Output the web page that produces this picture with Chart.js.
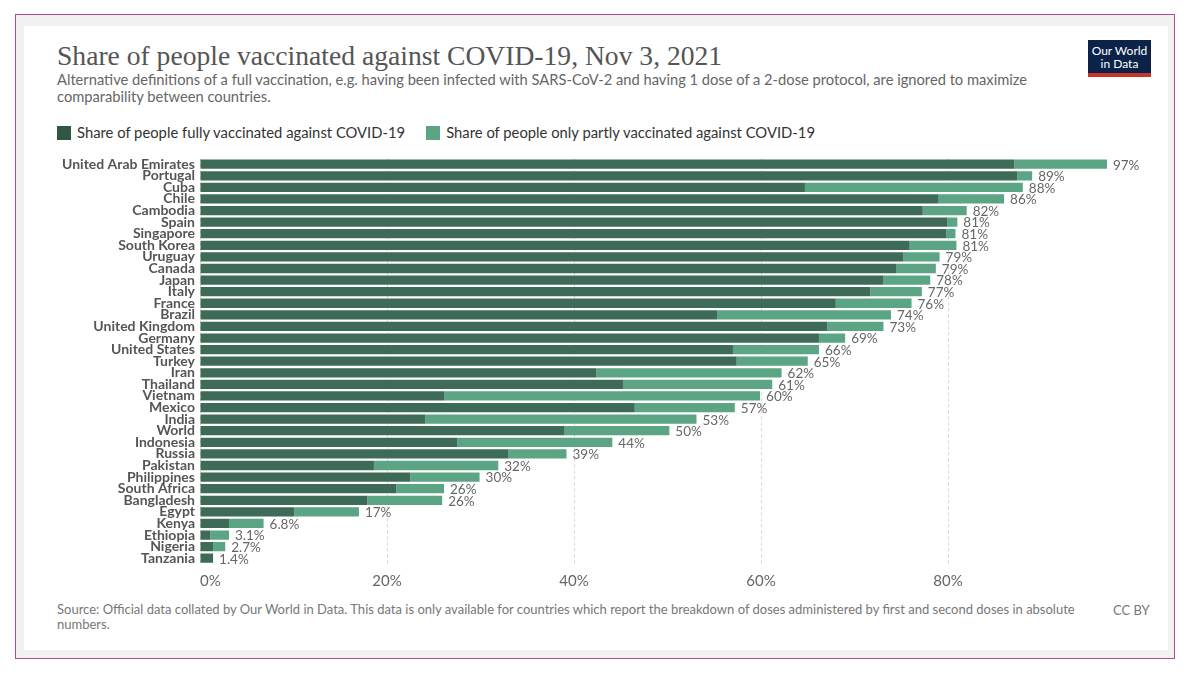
<!DOCTYPE html>
<html>
<head>
<meta charset="utf-8">
<script src="https://cdn.jsdelivr.net/npm/chart.js@4"></script>
<style>
    body { margin: 0; background: #fff; font-family: Lato, "Noto Sans", sans-serif; }
    .frame { position: absolute; left: 15px; top: 14px; width: 1160px; height: 645px; border: 1px solid #b04a9e; background: #f1f1f1; box-sizing: border-box; }
    .card { position: absolute; left: 24px; top: 26px; width: 1144px; height: 624px; background: #fff; }
    .title { position: absolute; left: 57px; top: 40px; font-family: "Liberation Serif", "DejaVu Serif", serif; font-size: 27.6px; color: #555; }
    .subtitle { position: absolute; left: 57px; top: 71px; width: 1000px; font-size: 14.7px; line-height: 17px; color: #666; }
    .logo { position: absolute; left: 1088px; top: 40px; width: 63px; height: 37px; background: #0b2349; border-bottom: 4px solid #c8332a; box-sizing: border-box; color: #fff; font-size: 12px; line-height: 13px; text-align: center; padding-top: 4px; }
    .legend { position: absolute; left: 57px; top: 123px; font-size: 14.8px; color: #333; display: flex; gap: 21px; }
    .legend span.box { display: inline-block; width: 14px; height: 14px; margin-right: 6px; vertical-align: -2px; }
    .source { position: absolute; left: 57px; top: 602px; width: 1030px; font-size: 13px; line-height: 15px; color: #777; }
    .cc { position: absolute; left: 1113px; top: 602px; font-size: 13px; color: #777; }
    #wrap { position: absolute; left: 40px; top: 145px; width: 1130px; height: 453px; }
</style>
</head>
<body>
<div class="frame"></div>
<div class="card"></div>
<div class="title">Share of people vaccinated against COVID-19, Nov 3, 2021</div>
<div class="subtitle">Alternative definitions of a full vaccination, e.g. having been infected with SARS-CoV-2 and having 1 dose of a 2-dose protocol, are ignored to maximize comparability between countries.</div>
<div class="logo">Our World<br>in Data</div>
<div class="legend">
    <div><span class="box" style="background:#2f5744"></span>Share of people fully vaccinated against COVID-19</div>
    <div><span class="box" style="background:#5ba584"></span>Share of people only partly vaccinated against COVID-19</div>
</div>
<div id="wrap"><canvas id="chart"></canvas></div>
<div class="source">Source: Official data collated by Our World in Data. This data is only available for countries which report the breakdown of doses administered by first and second doses in absolute numbers.</div>
<div class="cc">CC BY</div>

<script>
// --- Data ---
const countries = ['United Arab Emirates', 'Portugal', 'Cuba', 'Chile', 'Cambodia', 'Spain', 'Singapore',
    'South Korea', 'Uruguay', 'Canada', 'Japan', 'Italy', 'France', 'Brazil', 'United Kingdom', 'Germany',
    'United States', 'Turkey', 'Iran', 'Thailand', 'Vietnam', 'Mexico', 'India', 'World', 'Indonesia',
    'Russia', 'Pakistan', 'Philippines', 'South Africa', 'Bangladesh', 'Egypt', 'Kenya', 'Ethiopia',
    'Nigeria', 'Tanzania'];
const fullyVaccinated = [87.1, 87.4, 64.7, 79.0, 77.3, 79.9, 79.8, 75.9, 75.2, 74.5, 73.1, 71.7, 68.0,
    55.3, 67.1, 66.2, 57.0, 57.4, 42.4, 45.3, 26.1, 46.5, 24.1, 39.0, 27.5, 33.0, 18.6, 22.5, 21.0, 17.9,
    10.1, 3.1, 1.1, 1.4, 1.4];
const partlyVaccinated = [9.9, 1.6, 23.3, 7.0, 4.7, 1.1, 1.0, 5.0, 3.9, 4.2, 5.0, 5.5, 8.1, 18.6, 6.0,
    2.8, 9.2, 7.6, 19.8, 15.9, 33.8, 10.7, 29.0, 11.2, 16.6, 6.2, 13.3, 7.4, 5.1, 8.0, 6.9, 3.7, 2.0,
    1.3, 0];
const xTicks = [0, 20, 40, 60, 80, 100];   // 100 is only there to keep the scale end, not labelled

function formatShare(v) {
    return v < 10 ? v.toFixed(1) + '%' : Math.round(v) + '%';
}

// total label at the end of each stacked bar
const endLabels = {
    id: 'endLabels',
    afterDatasetsDraw(chart) {
        const ctx = chart.ctx;
        const last = chart.getDatasetMeta(chart.data.datasets.length - 1);
        ctx.save();
        ctx.font = '13.5px Lato';
        ctx.fillStyle = '#666';
        ctx.textBaseline = 'middle';
        ctx.textAlign = 'left';
        last.data.forEach((bar, i) => {
            const total = fullyVaccinated[i] + partlyVaccinated[i];
            ctx.fillText(formatShare(total), bar.x + 6, bar.y + 1);
        });
        ctx.restore();
    }
};

new Chart(document.getElementById('chart'), {
    type: 'bar',
    data: {
        labels: countries,
        datasets: [{
            label: 'Share of people fully vaccinated against COVID-19',
            data: fullyVaccinated,
            backgroundColor: '#3e6b57'
        }, {
            label: 'Share of people only partly vaccinated against COVID-19',
            data: partlyVaccinated,
            backgroundColor: '#5ba584'
        }]
    },
    options: {
        indexAxis: 'y',
        responsive: true,
        maintainAspectRatio: false,
        animation: false,
        layout: { padding: { top: 7, right: 35, left: 0, bottom: 0 } },
        datasets: { bar: { barPercentage: 0.8, categoryPercentage: 1 } },
        plugins: {
            legend: { display: false },
            tooltip: { enabled: false }
        },
        scales: {
            x: {
                stacked: true,
                min: 0,
                max: 100,
                afterBuildTicks: axis => { axis.ticks = xTicks.map(v => ({ value: v })); },
                ticks: {
                    callback: v => v === 100 ? '' : v + '%',
                    font: { family: 'Lato', size: 15 },
                    color: '#666',
                    padding: 8,
                    align: 'inner'
                },
                grid: {
                    color: ctx => ctx.tick && ctx.tick.value === 100 ? 'rgba(0,0,0,0)' : '#d6d6d6',
                    drawTicks: false
                },
                border: { display: false, dash: [3, 3] }
            },
            y: {
                stacked: true,
                afterFit: axis => { axis.width = 160; },
                ticks: {
                    autoSkip: false,
                    font: { family: 'Lato', size: 14, weight: 'bold' },
                    color: '#555',
                    padding: 5
                },
                grid: { display: false, drawTicks: false },
                border: { display: false }
            }
        }
    },
    plugins: [endLabels]
});
</script>
</body>
</html>
